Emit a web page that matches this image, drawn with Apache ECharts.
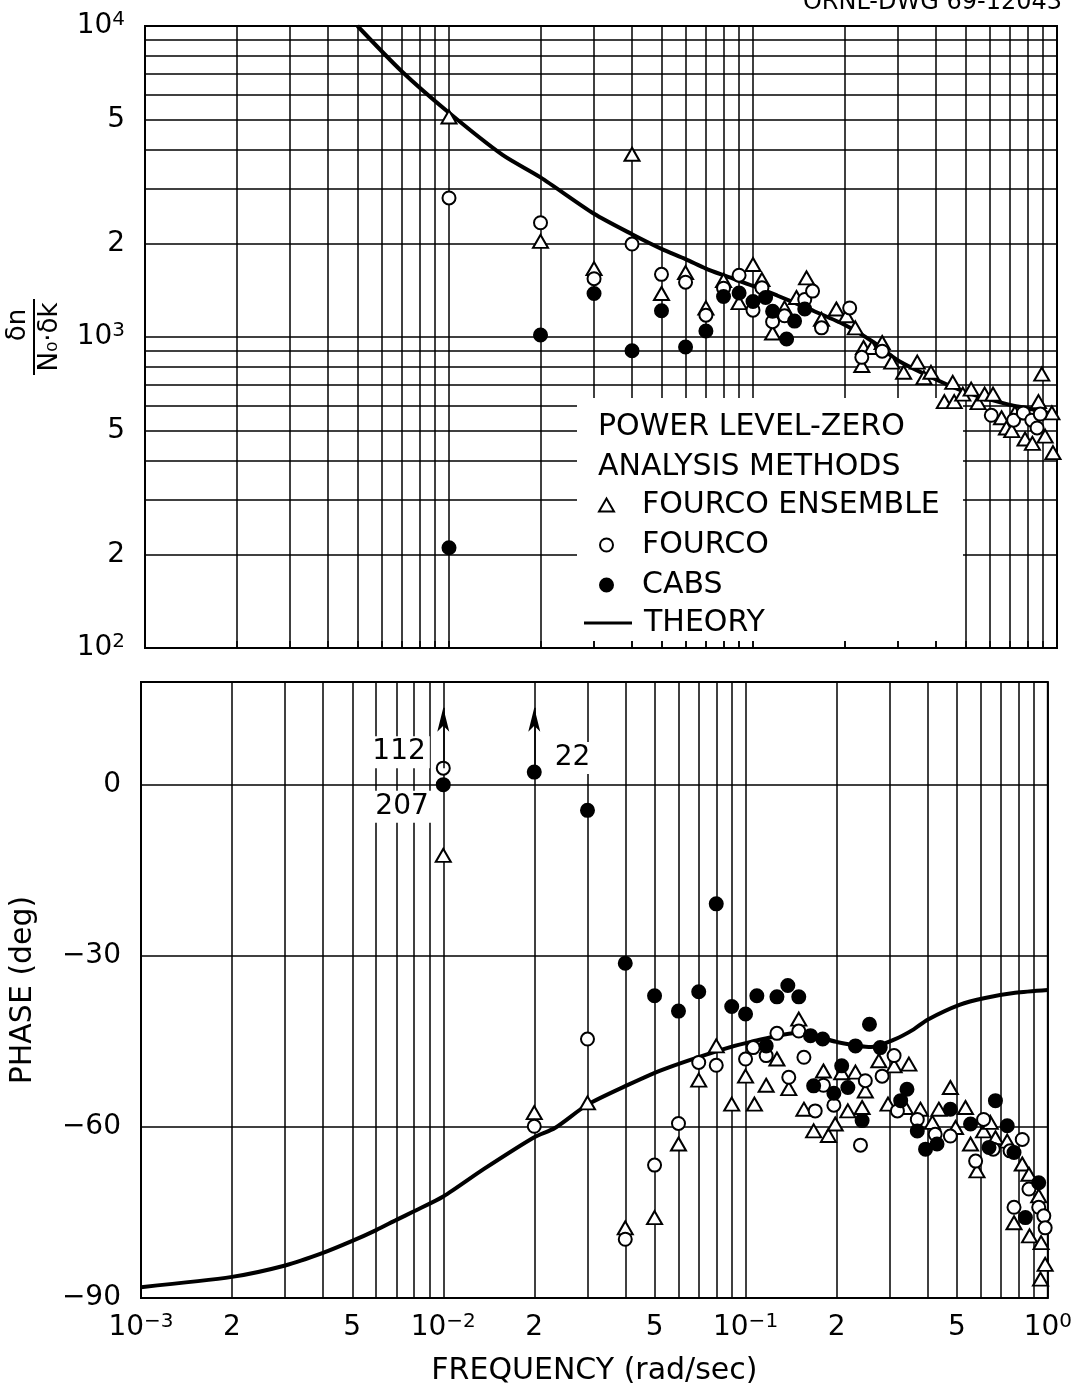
<!DOCTYPE html>
<html>
<head>
<meta charset="utf-8">
<title>Reactivity transfer function, power level zero</title>
<script src="https://cdn.jsdelivr.net/npm/echarts@6/dist/echarts.min.js"></script>
<style>
  html, body { margin: 0; padding: 0; background: #fff; }
  #chart { width: 1075px; height: 1389px; }
</style>
</head>
<body>
<div id="chart"></div>
<script>
// ---------------- data: gain (top panel), frequency in rad/sec ----------------
const gainTheory = [
  [0.005, 10000], [0.007, 7140], [0.01, 5260], [0.015, 3850], [0.02, 3260], [0.03, 2490],
  [0.04, 2140], [0.05, 1920], [0.06, 1780], [0.07, 1660], [0.08, 1580], [0.1, 1460],
  [0.12, 1360], [0.15, 1240], [0.2, 1095], [0.25, 960], [0.3, 840], [0.4, 730],
  [0.5, 665], [0.6, 630], [0.7, 605], [0.8, 590], [1.0, 560]
];
const gainEnsemble = [
  [0.01, 5100], [0.02, 2030], [0.03, 1660], [0.04, 3870], [0.05, 1380], [0.06, 1610],
  [0.07, 1240], [0.08, 1520], [0.09, 1290], [0.10, 1710], [0.107, 1530], [0.116, 1030],
  [0.127, 1240], [0.139, 1340], [0.150, 1550], [0.168, 1140], [0.188, 1230], [0.203, 1170],
  [0.217, 1070], [0.228, 810], [0.231, 925], [0.246, 925], [0.266, 960], [0.286, 830],
  [0.313, 770], [0.347, 830], [0.365, 740], [0.385, 770], [0.426, 620], [0.454, 715],
  [0.459, 620], [0.49, 655], [0.522, 680], [0.55, 615], [0.578, 655], [0.616, 655],
  [0.657, 550], [0.682, 510], [0.71, 500], [0.727, 570], [0.785, 470], [0.83, 455],
  [0.869, 620], [0.891, 760], [0.914, 480], [0.962, 570], [0.97, 425]
];
const gainFourco = [
  [0.01, 2800], [0.02, 2330], [0.03, 1540], [0.04, 1990], [0.05, 1590], [0.06, 1500],
  [0.07, 1175], [0.08, 1435], [0.09, 1580], [0.10, 1220], [0.107, 1440], [0.116, 1120],
  [0.127, 1170], [0.148, 1320], [0.157, 1405], [0.168, 1070], [0.208, 1240], [0.228, 860],
  [0.266, 900], [0.608, 560], [0.72, 540], [0.775, 570], [0.826, 540], [0.86, 510], [0.881, 565]
];
const gainCabs = [
  [0.01, 210], [0.02, 1015], [0.03, 1380], [0.04, 903], [0.05, 1214], [0.06, 929],
  [0.07, 1045], [0.08, 1350], [0.09, 1385], [0.10, 1300], [0.110, 1340], [0.116, 1210],
  [0.129, 985], [0.137, 1125], [0.148, 1230]
];

// ---------------- data: phase in degrees (bottom panel) ----------------
const phaseTheory = [
  [0.001, -88.1], [0.002, -86.3], [0.003, -84.3], [0.004, -82.1], [0.005, -80.0],
  [0.006, -78.1], [0.007, -76.3], [0.008, -74.8], [0.01, -72.2], [0.0136, -67.4],
  [0.02, -61.8], [0.0234, -60.2], [0.03, -56.1], [0.041, -52.6], [0.053, -50.0],
  [0.083, -46.5], [0.104, -45.1], [0.15, -43.5], [0.2, -45.1], [0.26, -46.0],
  [0.31, -44.7], [0.36, -42.9], [0.4, -41.2], [0.51, -38.6], [0.62, -37.4],
  [0.78, -36.5], [1.0, -36.0]
];
const phaseEnsemble = [
  [0.01, -12.4], [0.02, -57.5], [0.03, -55.8], [0.04, -77.7], [0.05, -75.9], [0.06, -63.0],
  [0.07, -51.8], [0.08, -45.8], [0.09, -56.0], [0.10, -51.1], [0.107, -56.0], [0.117, -52.7],
  [0.127, -48.1], [0.139, -53.3], [0.150, -41.1], [0.156, -56.9], [0.168, -60.7], [0.181, -50.2],
  [0.188, -61.5], [0.198, -59.5], [0.208, -50.5], [0.218, -57.2], [0.231, -50.4], [0.243, -56.6],
  [0.249, -53.7], [0.276, -48.4], [0.296, -56.0], [0.310, -49.3], [0.338, -56.6], [0.347, -49.0],
  [0.379, -56.9], [0.415, -59.2], [0.436, -56.9], [0.476, -53.1], [0.495, -60.1], [0.534, -56.6],
  [0.555, -63.0], [0.583, -67.7], [0.613, -60.7], [0.645, -59.2], [0.671, -61.9], [0.734, -62.5],
  [0.773, -76.8], [0.823, -66.5], [0.866, -68.3], [0.870, -79.1], [0.933, -72.1], [0.950, -80.3],
  [0.980, -84.1], [0.946, -86.7]
];
const phaseFourco = [
  [0.01, 2.9], [0.02, -59.9], [0.03, -44.6], [0.04, -79.7], [0.05, -66.7], [0.06, -59.4],
  [0.07, -48.7], [0.08, -49.2], [0.10, -48.1], [0.106, -46.1], [0.117, -47.5], [0.127, -43.6],
  [0.139, -51.3], [0.150, -43.2], [0.156, -47.8], [0.170, -57.2], [0.181, -52.7], [0.196, -56.2],
  [0.240, -63.2], [0.249, -51.9], [0.283, -51.1], [0.310, -47.5], [0.318, -57.2], [0.370, -58.7],
  [0.424, -61.3], [0.476, -61.6], [0.577, -66.0], [0.613, -58.7], [0.660, -63.9], [0.750, -64.2],
  [0.773, -74.1], [0.823, -62.2], [0.866, -70.9], [0.933, -74.1], [0.970, -75.6], [0.980, -77.7]
];
const phaseCabs = [
  [0.01, 0], [0.02, 2.2], [0.03, -4.5], [0.04, -31.3], [0.05, -37.0], [0.06, -39.7],
  [0.07, -36.3], [0.08, -20.9], [0.09, -38.9], [0.10, -40.2], [0.109, -37.0], [0.117, -45.8],
  [0.127, -37.2], [0.138, -35.2], [0.150, -37.2], [0.164, -44.0], [0.168, -52.8], [0.180, -44.6],
  [0.196, -54.1], [0.208, -49.3], [0.218, -53.1], [0.231, -45.8], [0.243, -58.9], [0.257, -42.0],
  [0.279, -46.1], [0.326, -55.4], [0.342, -53.4], [0.370, -60.7], [0.394, -63.9], [0.430, -63.0],
  [0.476, -56.9], [0.555, -59.5], [0.639, -63.6], [0.671, -55.4], [0.734, -59.8], [0.773, -64.5],
  [0.843, -75.9], [0.933, -69.8]
];

// Phase points beyond the top of the scale: kept near 0 with an upward arrow
// and their measured value written beside them.
const offScaleMethod = ['FOURCO', 'CABS', 'CABS'];
const offScaleFreq = [0.01, 0.01, 0.02];
const offScaleActual = [112, 207, 22];

// ---------------- axis ticks ----------------
const freqLabels = [0.001, 0.002, 0.005, 0.01, 0.02, 0.05, 0.1, 0.2, 0.5, 1];
const gainLabels = [100, 200, 500, 1000, 2000, 5000, 10000];
const phaseLabels = [-90, -60, -30, 0];
const mantissas = [1, 2, 3, 4, 5, 6, 7, 8, 9];

// log-paper rulings: every mantissa of every decade
function decadeLines(fromExp, toExp) {
  const out = [];
  for (let e = fromExp; e < toExp; e++) {
    mantissas.forEach(m => out.push(+(m + 'e' + e)));
  }
  out.push(+('1e' + toExp));
  return out;
}
const freqGrid = decadeLines(-3, 0);
const gainGrid = decadeLines(2, 4);

// ---------------- styling ----------------
const FONT = '"DejaVu Sans", "Liberation Sans", sans-serif';
const INK = '#000';
const MINUS = '\u2212';

function logLabel(v) {
  const e = Math.floor(Math.log10(v) + 1e-9);
  const m = Math.round(v / Math.pow(10, e));
  if (m === 1) return '{b|10}{e|' + String(e).replace('-', MINUS) + '}';
  return '{b|' + m + '}';
}
const labelRich = {
  b: { fontFamily: FONT, fontSize: 28, lineHeight: 32, color: INK },
  e: { fontFamily: FONT, fontSize: 20, lineHeight: 20, color: INK, verticalAlign: 'top' }
};
const gridLineStyle = { color: INK, width: 1.5, type: 'solid' };

// label placement of the off-scale values
const offScaleLabelStyle = [
  { position: 'left', distance: 6, offset: [0, -16] },
  { position: 'left', distance: 3, offset: [0, 22] },
  { position: 'right', distance: 9, offset: [0, -14] }
];
const ARROW_TIP = 13.5;

function withOffScale(points, method) {
  return points.map(p => {
    const k = offScaleMethod.findIndex((m, i) => m === method && offScaleFreq[i] === p[0]);
    if (k < 0) return p;
    return {
      value: p,
      label: Object.assign({
        show: true,
        formatter: String(offScaleActual[k]),
        fontFamily: FONT, fontSize: 28, color: INK,
        backgroundColor: '#fff', padding: [2, 4]
      }, offScaleLabelStyle[k])
    };
  });
}

// arrows start from the highest plotted off-scale mark at each frequency
function offScaleArrows() {
  const all = { FOURCO: phaseFourco, CABS: phaseCabs, 'FOURCO ENSEMBLE': phaseEnsemble };
  const start = {};
  offScaleFreq.forEach((f, i) => {
    const pt = all[offScaleMethod[i]].find(p => p[0] === f);
    if (pt && (start[f] === undefined || pt[1] > start[f])) start[f] = pt[1];
  });
  return Object.keys(start).map(f => [
    { coord: [+f, start[f]] },
    { coord: [+f, ARROW_TIP] }
  ]);
}

function scatter(name, data, gi, symbol, fill) {
  return {
    type: 'scatter', name, data,
    xAxisIndex: gi, yAxisIndex: gi,
    symbol,
    symbolSize: symbol === 'triangle' ? [15, 13] : 13,
    itemStyle: { color: fill, borderColor: INK, borderWidth: 2, opacity: 1 },
    emphasis: { disabled: true },
    silent: true, z: 3
  };
}
function theory(data, gi) {
  return {
    type: 'line', name: 'THEORY', data,
    xAxisIndex: gi, yAxisIndex: gi,
    symbol: 'none', smooth: 0.25, clip: true,
    itemStyle: { color: INK },
    lineStyle: { color: INK, width: 4 },
    emphasis: { disabled: true },
    silent: true, z: 2
  };
}

const cabsPhase = scatter('CABS', withOffScale(phaseCabs, 'CABS'), 1, 'circle', INK);
cabsPhase.markLine = {
  silent: true,
  symbol: ['none', 'arrow'],
  symbolSize: [9, 24],
  label: { show: false },
  lineStyle: { color: INK, width: 1.5, type: 'solid' },
  data: offScaleArrows()
};

const chart = echarts.init(document.getElementById('chart'), null, { renderer: 'canvas' });
chart.setOption({
  animation: false,
  backgroundColor: '#fff',
  textStyle: { fontFamily: FONT, color: INK },
  grid: [
    { left: 145, top: 26, width: 912, height: 622, show: true, borderColor: INK, borderWidth: 2, backgroundColor: 'transparent' },
    { left: 139, top: 682, width: 909, height: 616, show: true, borderColor: INK, borderWidth: 2, backgroundColor: 'transparent' }
  ],
  xAxis: [
    {
      gridIndex: 0, type: 'log', logBase: 10, min: 0.001, max: 1,
      axisLine: { show: false },
      axisTick: { show: true, inside: true, length: 7, customValues: freqGrid, lineStyle: gridLineStyle },
      axisLabel: { show: false },
      splitLine: { show: true, lineStyle: gridLineStyle }
    },
    {
      gridIndex: 1, type: 'log', logBase: 10, min: 0.001, max: 1,
      axisLine: { show: false },
      axisTick: { show: false, customValues: freqGrid },
      axisLabel: {
        customValues: freqLabels, formatter: logLabel, rich: labelRich,
        margin: 14, hideOverlap: false, showMinLabel: true, showMaxLabel: true
      },
      splitLine: { show: true, lineStyle: gridLineStyle },
      name: 'FREQUENCY (rad/sec)', nameLocation: 'middle', nameGap: 58,
      nameTextStyle: { fontFamily: FONT, fontSize: 30, color: INK }
    }
  ],
  yAxis: [
    {
      gridIndex: 0, type: 'log', logBase: 10, min: 100, max: 10000,
      axisLine: { show: false },
      axisTick: { show: false, customValues: gainGrid },
      axisLabel: {
        customValues: gainLabels, formatter: logLabel, rich: labelRich,
        margin: 20, hideOverlap: false, showMinLabel: true, showMaxLabel: true
      },
      splitLine: { show: true, lineStyle: gridLineStyle }
    },
    {
      gridIndex: 1, type: 'value', min: -90, max: 18, interval: 30,
      axisLine: { show: false },
      axisTick: { show: false, customValues: phaseLabels },
      axisLabel: {
        customValues: phaseLabels,
        formatter: v => String(v).replace('-', MINUS),
        fontFamily: FONT, fontSize: 28, color: INK, margin: 20
      },
      splitLine: { show: true, lineStyle: gridLineStyle },
      name: 'PHASE (deg)', nameLocation: 'middle', nameRotate: 90, nameGap: 103,
      nameTextStyle: { fontFamily: FONT, fontSize: 30, color: INK }
    }
  ],
  legend: [
    {
      data: ['FOURCO ENSEMBLE', 'FOURCO', 'CABS'],
      orient: 'vertical', left: 598, top: 489, padding: 0,
      itemWidth: 15, itemHeight: 13, itemGap: 8, selectedMode: false,
      textStyle: { fontFamily: FONT, fontSize: 30, color: INK, lineHeight: 32, padding: [0, 0, 0, 23] }
    },
    {
      data: [{ name: 'THEORY', icon: 'rect' }],
      orient: 'vertical', left: 584, top: 607, padding: 0,
      itemWidth: 48, itemHeight: 3, selectedMode: false,
      itemStyle: { color: INK, borderWidth: 0 },
      textStyle: { fontFamily: FONT, fontSize: 30, color: INK, lineHeight: 32, padding: [0, 0, 0, 7] }
    }
  ],
  graphic: [
    // cleared panel that holds the key
    { type: 'rect', left: 577, top: 398, shape: { width: 386, height: 243 }, style: { fill: '#fff' }, z: 1, silent: true },
    { type: 'text', x: 598, y: 427, z: 5, silent: true,
      style: { text: 'POWER LEVEL-ZERO', font: '30px ' + FONT, fill: INK, align: 'left', verticalAlign: 'middle' } },
    { type: 'text', x: 598, y: 467, z: 5, silent: true,
      style: { text: 'ANALYSIS METHODS', font: '30px ' + FONT, fill: INK, align: 'left', verticalAlign: 'middle' } },
    // drawing number
    { type: 'text', x: 1062, y: 3, z: 5, silent: true,
      style: { text: 'ORNL-DWG 69-12043', font: '24px ' + FONT, fill: INK, align: 'right', verticalAlign: 'middle' } },
    // gain axis title: δn / (N₀·δk), written sideways
    { type: 'group', x: 34, y: 337, rotation: Math.PI / 2, silent: true, z: 5,
      children: [
        { type: 'text', style: { text: 'δn', x: 12, y: -3, font: '26px ' + FONT, fill: INK, align: 'center', verticalAlign: 'bottom' } },
        { type: 'line', shape: { x1: -38, y1: 0, x2: 38, y2: 0 }, style: { stroke: INK, lineWidth: 2 } },
        { type: 'text', style: { text: 'N₀·δk', x: 0, y: 3, font: '26px ' + FONT, fill: INK, align: 'center', verticalAlign: 'top' } }
      ] }
  ],
  series: [
    theory(gainTheory, 0),
    scatter('FOURCO ENSEMBLE', gainEnsemble, 0, 'triangle', '#fff'),
    scatter('FOURCO', gainFourco, 0, 'circle', '#fff'),
    scatter('CABS', gainCabs, 0, 'circle', INK),
    theory(phaseTheory, 1),
    scatter('FOURCO ENSEMBLE', withOffScale(phaseEnsemble, 'FOURCO ENSEMBLE'), 1, 'triangle', '#fff'),
    scatter('FOURCO', withOffScale(phaseFourco, 'FOURCO'), 1, 'circle', '#fff'),
    cabsPhase
  ]
});
</script>
</body>
</html>
